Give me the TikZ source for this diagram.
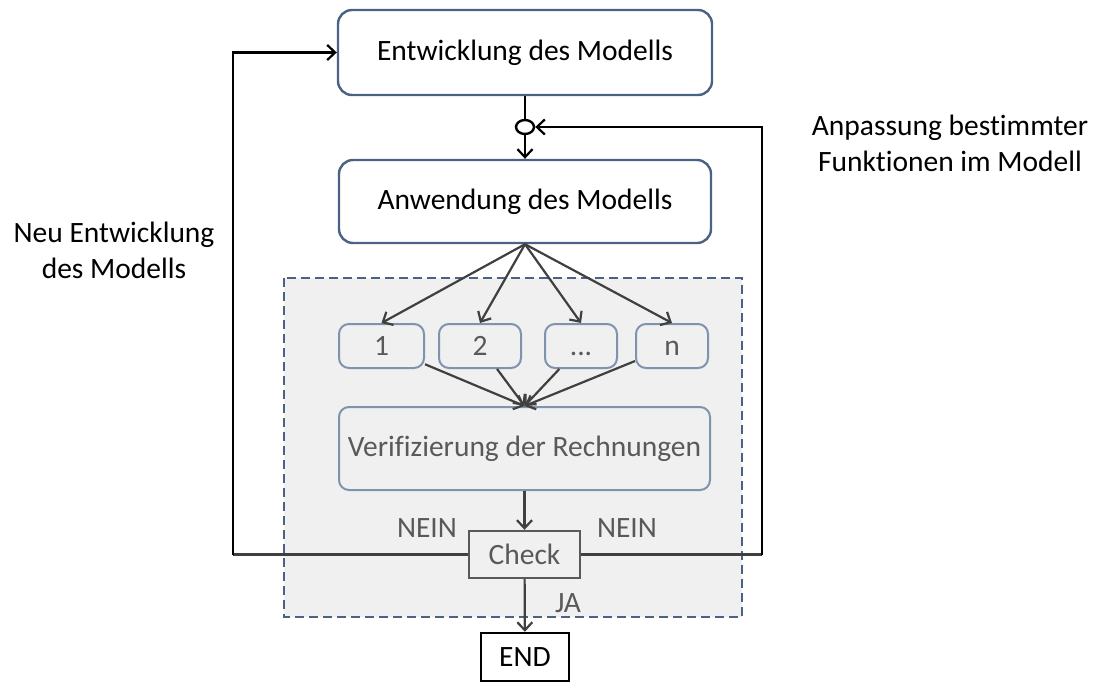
\documentclass[tikz,border=0pt]{standalone}
\usepackage{fontspec}
\setmainfont{Carlito}[Ligatures=NoCommon]
\usetikzlibrary{arrows.meta,shapes.geometric}

\definecolor{boxblue}{HTML}{4A6283}
\definecolor{lightblue}{HTML}{7F93AE}
\definecolor{darkgray}{HTML}{404040}
\definecolor{textgray}{HTML}{595959}
\definecolor{areagray}{HTML}{F0F0F0}

\tikzset{
  bigbox/.style={draw=boxblue, line width=2.4pt, rounded corners=14pt, fill=white, font=\fontsize{29.5}{34}\selectfont},
  subbox/.style={draw=lightblue, line width=2pt, rounded corners=10pt, fill=areagray, text=textgray, font=\fontsize{29.5}{34}\selectfont},
  sharpbox/.style={draw, line width=2.4pt, font=\fontsize{29.5}{34}\selectfont},
  lbl/.style={font=\fontsize{29.5}{36}\selectfont, align=center},
  arr/.style={-{Straight Barb[length=8pt,width=15pt,line width=2.2pt]}, line width=2.2pt},
}

\begin{document}
\begin{tikzpicture}[x=1pt,y=-1pt]
\useasboundingbox (0,0) rectangle (1098,682);
% gray area
\draw [boxblue, fill=areagray, line width=2.4pt, dash pattern=on 9pt off 5pt] (284,278) rectangle (742,617);

\node [bigbox, minimum width=374pt, minimum height=85pt] (dev) at (525,52.5) {Entwicklung des Modells};
\node [draw, ellipse, line width=2.4pt, minimum width=18pt, minimum height=14pt, inner sep=0pt] (join) at (525,127) {};
\node [bigbox, minimum width=372pt, minimum height=83pt] (use) at (525,201.5) {Anwendung des Modells};

\node [subbox, minimum width=85pt, minimum height=44pt] (r1) at (381.5,346) {1};
\node [subbox, minimum width=82pt, minimum height=44pt] (r2) at (480,346) {2};
\node [subbox, minimum width=72pt, minimum height=44pt] (r3) at (581,346) {\vphantom{1}...};
\node [subbox, minimum width=72pt, minimum height=44pt] (rn) at (672,346) {\vphantom{1}n};

\node [subbox, minimum width=371pt, minimum height=83pt] (verif) at (524.5,448.5) {Verifizierung der Rechnungen};
\node [sharpbox, draw=textgray, fill=areagray, text=textgray, minimum width=111pt, minimum height=47pt] (check) at (524.5,554.5) {Check};
\node [sharpbox, fill=white, minimum width=88pt, minimum height=48pt] (end) at (525,657) {END};

\coordinate (ul) at (233,554.5);
\coordinate (ur) at (762,554.5);

\draw [line width=2.4pt] (dev) -- (join);
\draw [arr] (join) -- (use);
\draw [arr, darkgray] (use.south) -- (r1.north);
\draw [arr, darkgray] (use.south) -- (r2.north);
\draw [arr, darkgray] (use.south) -- (r3.north);
\draw [arr, darkgray] (use.south) -- (rn.north);
\draw [arr, darkgray] (r1) -- (verif.north);
\draw [arr, darkgray] (r2) -- (verif.north);
\draw [arr, darkgray] (r3) -- (verif.north);
\draw [arr, darkgray] (rn) -- (verif.north);
\draw [arr, darkgray] (verif) -- (check);
\draw [arr, darkgray] (check) -- (end);
\draw [line width=2.4pt, darkgray] (check) -- (ul);
\draw [arr] (ul) |- (dev);
\draw [line width=2.4pt, darkgray] (check) -- (ur);
\draw [arr] (ur) |- (join);

\node [lbl, text=textgray] (nein1) at (427,528) {NEIN};
\node [lbl, text=textgray] (nein2) at (627,528) {NEIN};
\node [lbl, text=textgray] (ja) at (568,603) {JA};
\node [lbl] (newdev) at (114,250) {Neu Entwicklung\\des Modells};
\node [lbl] (adapt) at (950,143) {Anpassung bestimmter\\Funktionen im Modell};
\end{tikzpicture}
\end{document}
